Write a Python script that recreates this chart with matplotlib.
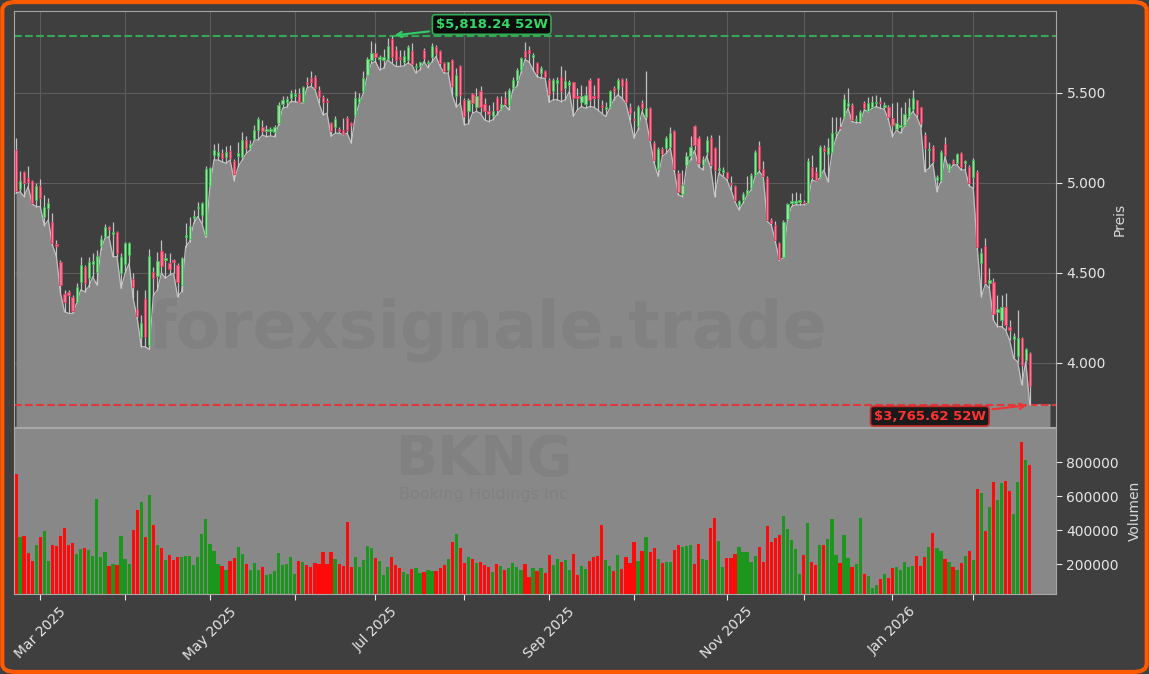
import numpy as np
import pandas as pd
import matplotlib
matplotlib.use("Agg")
import matplotlib.pyplot as plt
from matplotlib.patches import FancyBboxPatch
from matplotlib.ticker import FuncFormatter

ticker = "BKNG"
company = "Booking Holdings Inc"
watermark = "forexsignale.trade"

# trading days (NYSE holidays removed)
holidays = ["2025-04-18", "2025-05-26", "2025-06-19", "2025-07-04", "2025-09-01",
            "2025-11-27", "2025-12-25", "2026-01-01", "2026-01-19", "2026-02-16"]
dates = pd.bdate_range("2025-02-21", "2026-02-23")
dates = dates[~dates.isin(pd.to_datetime(holidays))]

opens = [
    5183, 4966, 5059, 5026, 5011, 4905, 4983, 4813, 4859, 4781,
    4660, 4563, 4380, 4392, 4364, 4340, 4451, 4535, 4470, 4550,
    4507, 4651, 4698, 4753, 4716, 4729, 4498, 4550, 4600, 4466,
    4300, 4146, 4353, 4100, 4503, 4483, 4620, 4570, 4557, 4570,
    4544, 4430, 4700, 4690, 4803, 4860, 4822, 4711, 4983, 5155,
    5151, 5164, 5142, 5177, 5122, 5150, 5142, 5239, 5192, 5242,
    5294, 5313, 5290, 5290, 5280, 5331, 5440, 5450, 5471, 5480,
    5495, 5452, 5560, 5580, 5587, 5517, 5476, 5456, 5332, 5310,
    5300, 5295, 5363, 5330, 5378, 5452, 5508, 5600, 5680, 5720,
    5690, 5680, 5690, 5800, 5740, 5700, 5674, 5680, 5730, 5643,
    5647, 5739, 5665, 5702, 5754, 5730, 5665, 5628, 5684, 5480,
    5647, 5462, 5397, 5495, 5420, 5510, 5440, 5400, 5370, 5471,
    5410, 5470, 5434, 5526, 5573, 5628, 5730, 5740, 5700, 5665,
    5613, 5619, 5573, 5508, 5554, 5587, 5526, 5545, 5560, 5480,
    5450, 5440, 5573, 5480, 5582, 5430, 5410, 5421, 5526, 5521,
    5576, 5567, 5421, 5355, 5317, 5443, 5365, 5415, 5221, 5076,
    5187, 5193, 5202, 5286, 5054, 4940, 5100, 5150, 5317, 5250,
    5100, 5170, 5250, 5193, 5070, 5060, 5058, 5000, 4980, 4878,
    4906, 4940, 4971, 5045, 5206, 5076, 5026, 4795, 4767, 4665,
    4590, 4800, 4890, 4890, 4895, 4895, 4890, 5090, 5063, 5035,
    5192, 5161, 5174, 5276, 5310, 5365, 5429, 5433, 5350, 5346,
    5442, 5402, 5424, 5445, 5447, 5420, 5424, 5360, 5300, 5310,
    5320, 5370, 5410, 5460, 5420, 5266, 5185, 5202, 5016, 5016,
    5215, 5072, 5122, 5109, 5165, 5109, 5087, 5035, 5063, 4553,
    4652, 4446, 4450, 4280, 4240, 4310, 4200, 4130, 4040, 4140,
    4016, 4053]

highs = [
    5248, 5066, 5066, 5094, 5016, 5001, 5020, 4933, 4914, 4831,
    4683, 4570, 4405, 4405, 4375, 4442, 4587, 4544, 4590, 4613,
    4627, 4711, 4772, 4763, 4785, 4735, 4609, 4674, 4674, 4498,
    4405, 4266, 4405, 4631, 4535, 4618, 4683, 4609, 4613, 4575,
    4555, 4590, 4776, 4813, 4850, 4896, 4896, 5094, 5090, 5216,
    5220, 5187, 5205, 5211, 5133, 5229, 5285, 5261, 5239, 5322,
    5364, 5350, 5322, 5313, 5320, 5452, 5484, 5484, 5517, 5521,
    5526, 5536, 5591, 5619, 5600, 5536, 5489, 5471, 5341, 5369,
    5310, 5360, 5369, 5341, 5508, 5502, 5619, 5702, 5786, 5776,
    5713, 5743, 5804, 5818.24, 5758, 5739, 5739, 5767, 5776, 5665,
    5674, 5749, 5680, 5776, 5767, 5739, 5674, 5674, 5687, 5637,
    5656, 5471, 5471, 5500, 5526, 5536, 5471, 5434, 5452, 5480,
    5480, 5508, 5526, 5591, 5637, 5702, 5780, 5758, 5721, 5674,
    5647, 5628, 5582, 5582, 5591, 5647, 5628, 5573, 5563, 5526,
    5545, 5536, 5580, 5545, 5582, 5462, 5452, 5517, 5536, 5582,
    5582, 5582, 5443, 5397, 5434, 5462, 5619, 5421, 5230, 5202,
    5202, 5258, 5313, 5295, 5073, 5073, 5174, 5258, 5320, 5258,
    5147, 5258, 5267, 5202, 5267, 5091, 5063, 5036, 4989, 4906,
    4952, 5036, 5054, 5184, 5230, 5119, 5036, 4804, 4786, 4674,
    4795, 4887, 4943, 4947, 4943, 4906, 5137, 5155, 5090, 5211,
    5211, 5248, 5368, 5368, 5368, 5494, 5526, 5442, 5378, 5405,
    5457, 5479, 5483, 5489, 5479, 5452, 5433, 5442, 5452, 5424,
    5452, 5470, 5516, 5461, 5424, 5285, 5229, 5211, 5044, 5183,
    5253, 5113, 5131, 5168, 5174, 5128, 5100, 5137, 5072, 4637,
    4692, 4526, 4470, 4377, 4377, 4387, 4239, 4165, 4294, 4146,
    4081, 4063]

lows = [
    4942, 4951, 4924, 4979, 4883, 4868, 4868, 4763, 4794, 4655,
    4590, 4387, 4285, 4275, 4275, 4331, 4405, 4396, 4424, 4479,
    4433, 4627, 4692, 4701, 4590, 4590, 4414, 4498, 4553, 4359,
    4248, 4090, 4090, 4075, 4377, 4405, 4500, 4470, 4488, 4498,
    4368, 4396, 4646, 4674, 4776, 4813, 4776, 4698, 4979, 5127,
    5127, 5118, 5109, 5127, 5013, 5090, 5127, 5164, 5183, 5239,
    5239, 5266, 5257, 5261, 5257, 5322, 5415, 5421, 5452, 5452,
    5447, 5443, 5526, 5536, 5521, 5443, 5378, 5387, 5258, 5276,
    5276, 5267, 5276, 5221, 5369, 5443, 5499, 5600, 5665, 5674,
    5628, 5637, 5684, 5665, 5647, 5647, 5650, 5665, 5656, 5610,
    5628, 5674, 5640, 5674, 5702, 5647, 5610, 5610, 5489, 5421,
    5443, 5323, 5328, 5387, 5397, 5387, 5350, 5341, 5350, 5378,
    5406, 5434, 5406, 5517, 5536, 5610, 5684, 5674, 5628, 5591,
    5582, 5582, 5447, 5462, 5462, 5452, 5462, 5508, 5369, 5406,
    5424, 5415, 5424, 5421, 5406, 5387, 5369, 5415, 5462, 5489,
    5471, 5443, 5350, 5249, 5295, 5397, 5350, 5230, 5110, 5036,
    5147, 5165, 5193, 5063, 4934, 4924, 5091, 5128, 5180, 5091,
    5073, 5150, 5082, 4924, 5054, 5036, 5017, 4961, 4897, 4850,
    4887, 4930, 4961, 5036, 5063, 5036, 4786, 4767, 4674, 4569,
    4585, 4795, 4869, 4878, 4878, 4878, 4887, 5016, 5010, 5026,
    5072, 5007, 5165, 5248, 5294, 5359, 5415, 5340, 5335, 5335,
    5405, 5396, 5415, 5424, 5415, 5409, 5350, 5257, 5294, 5276,
    5315, 5359, 5396, 5368, 5313, 5063, 5081, 5109, 4952, 5007,
    5146, 5063, 5100, 5100, 5072, 5072, 4983, 4970, 4637, 4368,
    4438, 4415, 4238, 4202, 4202, 4183, 4127, 4025, 4007, 3878,
    4007, 3765.62]

closes = [
    4957, 5013, 4998, 5003, 4887, 4983, 4915, 4864, 4887, 4664,
    4650, 4433, 4340, 4377, 4290, 4420, 4544, 4446, 4560, 4566,
    4594, 4687, 4753, 4742, 4729, 4609, 4590, 4664, 4664, 4424,
    4261, 4220, 4142, 4594, 4470, 4566, 4540, 4580, 4520, 4560,
    4451, 4581, 4711, 4760, 4816, 4868, 4887, 5076, 5081, 5183,
    5170, 5137, 5170, 5140, 5050, 5168, 5239, 5196, 5214, 5294,
    5353, 5287, 5300, 5300, 5310, 5433, 5460, 5465, 5502, 5495,
    5452, 5532, 5550, 5560, 5526, 5476, 5452, 5450, 5286, 5356,
    5286, 5273, 5295, 5320, 5471, 5471, 5582, 5690, 5720, 5700,
    5700, 5700, 5760, 5700, 5680, 5690, 5706, 5754, 5662, 5650,
    5669, 5693, 5670, 5762, 5721, 5665, 5619, 5669, 5536, 5600,
    5489, 5369, 5462, 5443, 5480, 5420, 5400, 5380, 5400, 5406,
    5440, 5440, 5517, 5573, 5628, 5693, 5700, 5720, 5710, 5610,
    5637, 5587, 5495, 5573, 5573, 5508, 5567, 5563, 5471, 5470,
    5480, 5490, 5462, 5470, 5470, 5420, 5420, 5508, 5513, 5573,
    5539, 5452, 5391, 5350, 5421, 5415, 5415, 5239, 5128, 5187,
    5161, 5249, 5276, 5076, 4947, 4990, 5150, 5200, 5212, 5110,
    5130, 5240, 5100, 5073, 5080, 5073, 5026, 4995, 4906, 4897,
    4939, 4960, 5045, 5174, 5076, 5039, 4795, 4776, 4684, 4576,
    4780, 4880, 4900, 4900, 4905, 4890, 5120, 5030, 5016, 5202,
    5179, 5198, 5279, 5285, 5305, 5465, 5442, 5350, 5355, 5396,
    5415, 5442, 5452, 5448, 5445, 5433, 5365, 5320, 5330, 5320,
    5380, 5420, 5470, 5380, 5330, 5192, 5190, 5124, 5031, 5174,
    5155, 5105, 5109, 5161, 5087, 5122, 5002, 5128, 4646, 4609,
    4442, 4461, 4270, 4300, 4310, 4210, 4180, 4150, 4140, 3990,
    4076, 3872]

volumes = [
    731000, 362600, 366500, 264500, 221400, 313500, 362600, 397800, 221400, 313500,
    309600, 366500, 413500, 313500, 323300, 260600, 290000, 295900, 284100, 248800,
    584100, 244900, 272400, 190000, 201800, 195900, 366500, 231200, 201800, 401800,
    515500, 564500, 362600, 607600, 431200, 313500, 295900, 225300, 254700, 225300,
    244900, 244900, 248800, 248800, 195900, 244900, 378200, 466500, 319400, 278200,
    201800, 190000, 166500, 221400, 237100, 301800, 260600, 201800, 166500, 205700,
    166500, 184100, 137000, 142900, 160600, 264500, 195900, 201800, 242900, 142900,
    219400, 215500, 195900, 186100, 205700, 199800, 272400, 201800, 272400, 229200,
    199800, 190000, 448800, 186100, 242900, 186100, 225300, 307700, 297800, 237100,
    219400, 137000, 184100, 242900, 197900, 178200, 156700, 142900, 172400, 178200,
    146900, 154700, 166500, 158700, 160600, 180200, 195900, 231200, 331200, 378200,
    295900, 205700, 244900, 231200, 209600, 213600, 195900, 186100, 154700, 201800,
    190000, 166500, 176300, 205700, 186100, 168500, 201800, 127300, 178200, 160600,
    178200, 148800, 254700, 195900, 231200, 213600, 225300, 166500, 260600, 137000,
    190000, 172400, 219400, 242900, 250000, 431200, 225300, 190000, 160600, 254700,
    172400, 242900, 205700, 331200, 219400, 278300, 358600, 272400, 295900, 231200,
    205700, 211600, 211600, 284100, 311600, 301800, 307700, 313500, 201800, 319400,
    231200, 225300, 413500, 472300, 337100, 184100, 237100, 237100, 260600, 301800,
    272400, 272400, 213600, 248800, 301800, 213600, 425300, 331200, 354700, 372400,
    484100, 407600, 342900, 290000, 143000, 254700, 442900, 213600, 195900, 313500,
    313500, 348800, 466500, 254700, 207700, 372400, 237100, 184100, 201800, 472300,
    143000, 131200, 60600, 78300, 113500, 143000, 119400, 178200, 184000, 165000,
    210000, 185000, 190000, 250000, 190000, 245000, 300000, 382000, 296000, 278000,
    230000, 210000, 185000, 165000, 205000, 250000, 275000, 225000, 643000, 621000,
    396000, 535000, 684000, 578000, 676000, 690000, 631000, 496000, 684000, 915500,
    813500, 784100]

price_ticks = [4000, 4500, 5000, 5500]
vol_ticks = [200000, 400000, 600000, 800000]

BG = "#3f3f3f"
FILL = "#888888"

o = np.array(opens, float)
h = np.array(highs, float)
l = np.array(lows, float)
c = np.array(closes, float)
n = len(c)
x = np.arange(n)
up = c >= o

hi_i, lo_i = int(np.argmax(h)), int(np.argmin(l))
hi, lo = h[hi_i], l[lo_i]

fig = plt.figure(figsize=(11.49, 6.74), dpi=100, facecolor=BG)
ax = fig.add_axes([0.0122, 0.3665, 0.9069, 0.6172])
axv = fig.add_axes([0.0122, 0.1187, 0.9069, 0.2463], sharex=ax)

# --- price panel ---
ax.set_facecolor(BG)
ax.grid(True, color="#5c5c5c", lw=0.8)
ax.set_axisbelow(True)

ext = 5  # area keeps going a bit past the last bar
xf = np.append(x, n - 1 + ext)
yf = np.append(l, l[-1])
ax.fill_between(xf, yf, 3000, color=FILL, lw=0, zorder=1.5)
ax.plot(xf, yf, color="#c0c0c0", lw=0.9, zorder=1.6)

ax.axhline(hi, color="#35a858", ls="--", lw=1.5, zorder=2)
ax.axhline(lo, color="#e03838", ls="--", lw=1.5, zorder=2)

ax.vlines(x, l, h, color="#d0d0d0", lw=0.9, alpha=0.9, zorder=3)
body = np.maximum(np.abs(c - o), 4)
ax.bar(x, body, bottom=np.minimum(o, c), width=0.55,
       color=np.where(up, "#9ee09e", "#ff7391"),
       edgecolor=np.where(up, "#3cbf55", "#e03a60"), lw=0.7, alpha=0.9, zorder=4)

ax.text(0.454, 0.233, watermark, transform=ax.transAxes, ha="center", va="center",
        fontsize=47, fontweight="bold", color="black", alpha=0.05, zorder=2.5)

ax.annotate(f"${hi:,.2f} 52W", xy=(hi_i, hi), xytext=(72, 8), textcoords="offset points",
            ha="center", va="center", fontsize=9.5, fontweight="bold", color="#33d866",
            bbox=dict(boxstyle="round,pad=0.25", fc="#0c0c0c", ec="#2faa55", lw=1.2),
            arrowprops=dict(arrowstyle="->", color="#33cc66", lw=1.5), zorder=6)
ax.annotate(f"${lo:,.2f} 52W", xy=(lo_i, lo), xytext=(-72, -8), textcoords="offset points",
            ha="center", va="center", fontsize=9.5, fontweight="bold", color="#ff3333",
            bbox=dict(boxstyle="round,pad=0.25", fc="#1a1a1a", ec="#cc2a2a", lw=1.2),
            arrowprops=dict(arrowstyle="->", color="#ee3333", lw=1.5), zorder=6)

ax.set_ylim(3644, 5955)
ax.set_xlim(-0.5, n + 5.5)
ax.yaxis.tick_right()
ax.set_yticks(price_ticks)
ax.yaxis.set_major_formatter(FuncFormatter(lambda v, p: f"{v:,.0f}".replace(",", ".")))
ax.tick_params(axis="y", colors="#e6e6e6", labelsize=10, length=4)
ax.tick_params(axis="x", bottom=False, labelbottom=False)
ax.yaxis.set_label_position("right")
ax.set_ylabel("Preis", color="#d8d8d8", fontsize=10, labelpad=5)
for s in ax.spines.values():
    s.set_color("#a8a8a8")

# --- volume panel ---
axv.set_facecolor(FILL)
axv.text(0.452, 0.81, ticker, transform=axv.transAxes, ha="center", va="center",
         fontsize=40, fontweight="bold", color="black", alpha=0.05, zorder=1)
axv.text(0.45, 0.6, company, transform=axv.transAxes, ha="center", va="center",
         fontsize=11.5, color="black", alpha=0.05, zorder=1)
axv.bar(x, volumes, width=0.8, color=np.where(up, "#1c961c", "#ff0a0a"), zorder=2)
axv.set_ylim(25000, 1000000)
axv.yaxis.tick_right()
axv.set_yticks(vol_ticks)
axv.yaxis.set_major_formatter(FuncFormatter(lambda v, p: f"{v:.0f}"))
axv.tick_params(axis="y", colors="#e6e6e6", labelsize=10, length=4)
axv.yaxis.set_label_position("right")
axv.set_ylabel("Volumen", color="#d8d8d8", fontsize=10, labelpad=6)
for s in axv.spines.values():
    s.set_color("#a8a8a8")

months = pd.date_range(dates[0], dates[-1], freq="MS")
mpos = [int(dates.searchsorted(m)) for m in months]
mlab = [m.strftime("%b %Y") if m.month % 2 == 1 else "" for m in months]
axv.set_xticks(mpos)
axv.set_xticklabels(mlab, rotation=45)
axv.tick_params(axis="x", colors="#e6e6e6", labelsize=10, length=4)
ax.set_xticks(mpos)

fig.patches.append(FancyBboxPatch((0.002, 0.003), 0.996, 0.994,
                                  boxstyle="round,pad=0,rounding_size=0.012",
                                  transform=fig.transFigure, fill=False,
                                  ec="#ff5a00", lw=3))

fig.savefig("out.png", dpi=100, facecolor=fig.get_facecolor())
